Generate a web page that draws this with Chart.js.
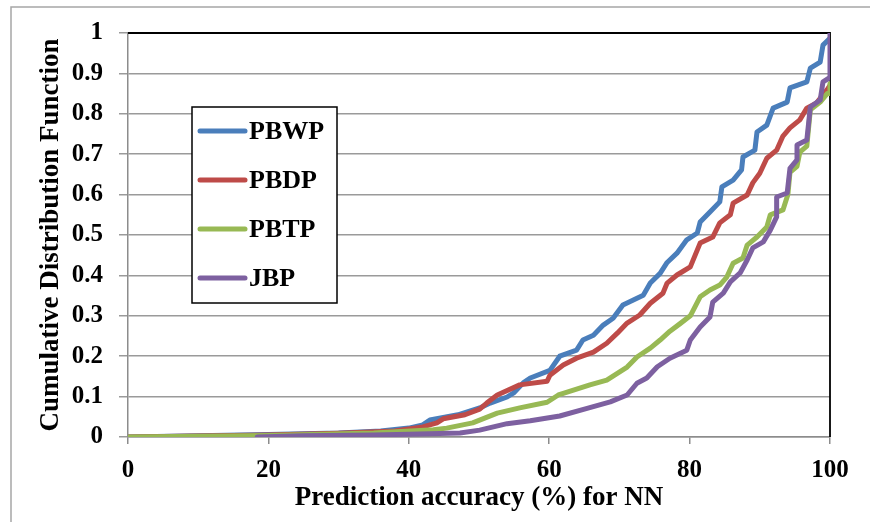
<!DOCTYPE html>
<html lang="en">
<head>
  <meta charset="UTF-8">
  <title>CDF of prediction accuracy</title>
  <script src="https://cdn.jsdelivr.net/npm/chart.js"></script>
  <style>
    html, body { margin: 0; padding: 0; background: #fff; }
    canvas { display: block; }
  </style>
</head>
<body>
<canvas id="cdfChart" width="870" height="522"></canvas>
<script>
  // series (x = accuracy %, y = CDF)
  const seriesNames = ['PBWP', 'PBDP', 'PBTP', 'JBP'];
  const seriesColors = ['#4A7EBB', '#BE4B48', '#98B954', '#7D60A0'];

  const pbwpX = [0, 10, 20, 30, 36, 40, 42, 43, 47, 50.1, 51.6, 54, 55, 56.3, 57.3, 60.1, 61.5, 63.9, 64.8, 66.3, 67.7, 69.1, 70.5, 73.4, 74.4, 75.8, 76.8, 78.2, 79.6, 81.1, 81.5, 82.9, 84.3, 84.6, 86.2, 87.4, 87.6, 89.3, 89.6, 91, 91.9, 93.9, 94.3, 96.7, 97.2, 98.6, 99, 100];
  const pbwpY = [0, 0.003, 0.006, 0.01, 0.015, 0.022, 0.03, 0.042, 0.055, 0.072, 0.084, 0.099, 0.11, 0.134, 0.146, 0.165, 0.2, 0.215, 0.24, 0.252, 0.277, 0.294, 0.327, 0.351, 0.381, 0.405, 0.432, 0.455, 0.488, 0.505, 0.532, 0.557, 0.582, 0.619, 0.636, 0.661, 0.693, 0.71, 0.755, 0.772, 0.814, 0.829, 0.864, 0.879, 0.913, 0.928, 0.97, 0.987];

  const pbdpX = [0, 20, 30, 38, 42, 44, 44.9, 48, 50.1, 51.1, 52.6, 55.8, 59.7, 60.1, 62, 63.9, 66.3, 68.2, 69.7, 71.1, 72.9, 74.4, 76.2, 76.8, 78.2, 80.1, 81.5, 83.3, 84.3, 85.8, 86.2, 88.2, 89, 90, 91, 92.4, 93.3, 94.3, 95.7, 96.7, 98.1, 99.6, 100];
  const pbdpY = [0, 0.005, 0.009, 0.015, 0.025, 0.035, 0.045, 0.055, 0.069, 0.084, 0.104, 0.129, 0.138, 0.153, 0.178, 0.195, 0.21, 0.232, 0.257, 0.282, 0.302, 0.331, 0.356, 0.381, 0.401, 0.421, 0.48, 0.495, 0.53, 0.55, 0.579, 0.599, 0.629, 0.653, 0.69, 0.71, 0.745, 0.765, 0.785, 0.814, 0.827, 0.86, 0.87];

  const pbtpX = [0, 20, 35, 43.5, 45.4, 49.1, 52.6, 55.8, 59.7, 61.3, 62, 65.8, 68.2, 71.1, 72.5, 74.4, 75.8, 77.2, 78.6, 80.1, 81.5, 82.9, 84.3, 85.3, 86.2, 87.6, 88.2, 89.6, 91, 91.5, 93.3, 94, 94.3, 95.3, 95.7, 96.7, 97.2, 98.6, 99.6, 100, 100];
  const pbtpY = [0, 0.004, 0.01, 0.018, 0.022, 0.035, 0.059, 0.072, 0.086, 0.104, 0.108, 0.129, 0.141, 0.173, 0.198, 0.22, 0.24, 0.262, 0.28, 0.3, 0.347, 0.364, 0.376, 0.396, 0.43, 0.443, 0.475, 0.495, 0.52, 0.55, 0.562, 0.6, 0.655, 0.67, 0.705, 0.72, 0.81, 0.829, 0.85, 0.85, 0.875];

  const jbpX = [18.4, 25, 35, 40, 47.3, 50.1, 54, 57.3, 61.5, 65.4, 68.7, 71.1, 72.5, 73.9, 75.4, 77.2, 79.6, 80.1, 81.5, 82.9, 83.3, 84.8, 85.8, 87.2, 88.2, 89, 90.5, 91.5, 92.4, 92.4, 93.9, 94.3, 95.3, 95.3, 96.7, 97.2, 98.6, 99, 100, 100];
  const jbpY = [0, 0.003, 0.005, 0.007, 0.01, 0.017, 0.033, 0.04, 0.052, 0.071, 0.087, 0.104, 0.133, 0.146, 0.174, 0.195, 0.215, 0.24, 0.272, 0.297, 0.334, 0.356, 0.384, 0.406, 0.438, 0.468, 0.483, 0.512, 0.545, 0.594, 0.604, 0.665, 0.686, 0.723, 0.735, 0.817, 0.834, 0.879, 0.89, 1.0];

  const xTickLabels = ['0', '20', '40', '60', '80', '100'];
  const yTickLabels = ['0', '0.1', '0.2', '0.3', '0.4', '0.5', '0.6', '0.7', '0.8', '0.9', '1'];

  const FONT = '"Liberation Serif", "Times New Roman", serif';

  function toPoints(xs, ys) {
    return xs.map((x, i) => ({ x: x, y: ys[i] }));
  }

  const seriesX = [pbwpX, pbdpX, pbtpX, jbpX];
  const seriesY = [pbwpY, pbdpY, pbtpY, jbpY];

  // outer frame, top/right plot border and the boxed legend
  const framePlugin = {
    id: 'frame',
    beforeDraw(chart) {
      const ctx = chart.ctx;
      ctx.save();
      ctx.fillStyle = '#fff';
      ctx.fillRect(0, 0, chart.width, chart.height);
      ctx.strokeStyle = '#a6a6a6';
      ctx.lineWidth = 1.5;
      ctx.beginPath();
      ctx.moveTo(11, chart.height + 5);
      ctx.lineTo(11, 7);
      ctx.lineTo(chart.width + 5, 7);
      ctx.stroke();
      ctx.restore();
    },
    beforeDatasetsDraw(chart) {
      const a = chart.chartArea;
      const ctx = chart.ctx;
      ctx.save();
      ctx.strokeStyle = '#000';
      ctx.lineWidth = 1.8;
      ctx.beginPath();
      ctx.moveTo(a.left, a.top);
      ctx.lineTo(a.right, a.top);
      ctx.lineTo(a.right, a.bottom);
      ctx.stroke();
      ctx.restore();
    },
    afterDraw(chart) {
      const ctx = chart.ctx;
      const box = { x: 192, y: 107, w: 145, h: 196 };
      ctx.save();
      ctx.fillStyle = '#fff';
      ctx.fillRect(box.x, box.y, box.w, box.h);
      ctx.strokeStyle = '#000';
      ctx.lineWidth = 1.5;
      ctx.strokeRect(box.x, box.y, box.w, box.h);
      ctx.font = 'bold 26px ' + FONT;
      ctx.textBaseline = 'middle';
      ctx.textAlign = 'left';
      chart.data.datasets.forEach((ds, i) => {
        const y = 131 + i * 49;
        ctx.strokeStyle = ds.borderColor;
        ctx.lineWidth = 5;
        ctx.lineCap = 'round';
        ctx.beginPath();
        ctx.moveTo(200, y);
        ctx.lineTo(245, y);
        ctx.stroke();
        ctx.fillStyle = '#000';
        ctx.fillText(ds.label, 249, y + 1);
      });
      ctx.restore();
    }
  };

  new Chart(document.getElementById('cdfChart'), {
    type: 'line',
    data: {
      datasets: seriesNames.map((name, i) => ({
        label: name,
        data: toPoints(seriesX[i], seriesY[i]),
        borderColor: seriesColors[i],
        borderWidth: 5,
        pointRadius: 0,
        tension: 0,
        borderJoinStyle: 'round',
        borderCapStyle: 'round',
        order: seriesNames.length - i
      }))
    },
    options: {
      responsive: false,
      animation: false,
      devicePixelRatio: 1,
      layout: { padding: { top: 33, right: 40, left: 0, bottom: 0 } },
      plugins: {
        legend: { display: false },
        tooltip: { enabled: false }
      },
      scales: {
        x: {
          type: 'linear',
          min: 0,
          max: 100,
          afterFit(scale) { scale.height = 85; },
          ticks: {
            stepSize: 20,
            padding: 12,
            color: '#000',
            font: { family: FONT, size: 25, weight: 'bold' },
            callback: (v, i) => xTickLabels[i]
          },
          grid: { drawOnChartArea: false, drawTicks: true, tickLength: 7, color: '#8c8c8c', lineWidth: 1.5 },
          border: { display: true, color: '#8c8c8c', width: 1.5 },
          title: {
            display: true,
            text: 'Prediction accuracy (%) for NN',
            color: '#000',
            padding: 8,
            font: { family: FONT, size: 27, weight: 'bold' }
          }
        },
        y: {
          min: 0,
          max: 1,
          afterFit(scale) { scale.width = 128; },
          ticks: {
            stepSize: 0.1,
            padding: 16,
            color: '#000',
            font: { family: FONT, size: 25, weight: 'bold' },
            callback: (v, i) => yTickLabels[i]
          },
          grid: { color: '#9a9a9a', lineWidth: 1.5, tickLength: 9 },
          border: { display: true, color: '#8c8c8c', width: 1.5 },
          title: {
            display: true,
            text: 'Cumulative Distribution Function',
            color: '#000',
            padding: 35,
            font: { family: FONT, size: 27, weight: 'bold' }
          }
        }
      }
    },
    plugins: [framePlugin]
  });
</script>
</body>
</html>
